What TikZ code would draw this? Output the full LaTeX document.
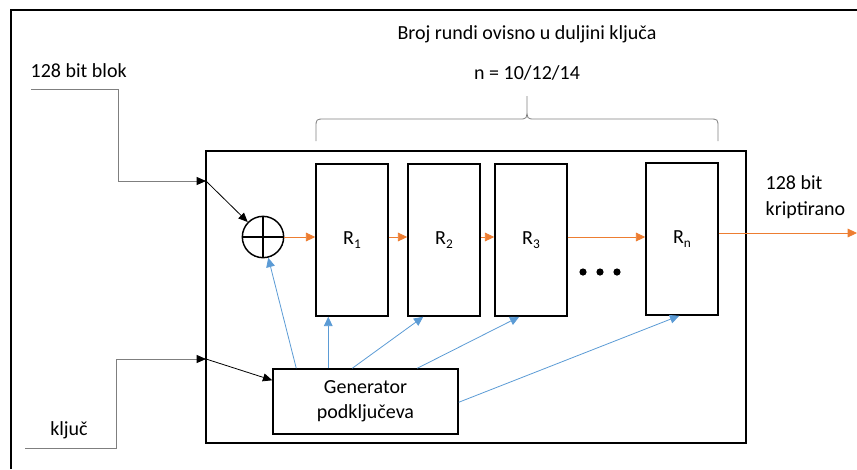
\documentclass[tikz,border=0pt]{standalone}
\usepackage{fontspec}
\setmainfont{Carlito}
\usetikzlibrary{arrows.meta,calc}
\definecolor{ornge}{HTML}{ED7D31}
\definecolor{blu}{HTML}{5B9BD5}
\definecolor{grey}{HTML}{7F7F7F}
\newcommand{\rsub}[1]{R\raisebox{-0.35ex}{\fontsize{10}{10}\selectfont #1}}
\tikzset{
  thick box/.style={draw,line width=1.1pt,inner sep=0pt},
  rnd/.style={thick box,minimum width=54pt,minimum height=114pt},
  blk/.style={line width=0.6pt,-{Triangle[length=7pt,width=6pt,color=black]}},
  org/.style={ornge,line width=0.6pt,-{Triangle[length=7pt,width=6.5pt]}},
  key/.style={blu,line width=0.6pt,-{Triangle[length=7pt,width=6.5pt]}}
}
\begin{document}
\begin{tikzpicture}[x=0.75pt,y=-0.75pt,font=\fontsize{15}{19}\selectfont]
    \useasboundingbox (0,0) rectangle (857,469);
    \draw[line width=1.5pt] (11,469) -- (11,10) -- (857,10);
    \node[thick box,minimum width=405pt,minimum height=219pt] (main) at (476,297) {};
    \node[thick box,circle,minimum size=31pt] (xor) at (263,237) {};
    \draw[line width=1.1pt] (xor.north) -- (xor.south) (xor.west) -- (xor.east);
    \node[rnd] (r1) at (352,240) {\rsub{1}};
    \node[rnd] (r2) at (444,240) {\rsub{2}};
    \node[rnd] (r3) at (531,240) {\rsub{3}};
    \node[rnd] (rn) at (682,239) {\rsub{n}};
    \node[thick box,minimum width=138.75pt,minimum height=48.75pt,align=center] (gen) at (365.5,401.5) {Generator\\podključeva};
    \foreach \d in {583,600,617} \fill (\d,272) circle (2.7pt);
    \node[anchor=west] (blok) at (26,71) {128 bit blok};
    \node (kljuc) at (69,430) {ključ};
    \node (title) at (527,34) {Broj rundi ovisno u duljini ključa};
    \node (nval) at (527,73) {n = 10/12/14};
    \node[anchor=west,align=left] (izlaz) at (761,197) {128 bit\\kriptirano};
    \coordinate (blokin) at (31,89);
    \coordinate (kljucin) at (25,448);
    \coordinate (e1) at (206,181);
    \coordinate (e2) at (206,359);
    \coordinate (out) at (857,233);
    \coordinate (bl) at (316,141);
    \coordinate (br) at (718,141);
    \coordinate (btip) at (527,96);
    \draw[grey,line width=0.6pt] (bl) -- ++(0,-13) .. controls ++(0,-9) .. ++(9,-9) -- ($(btip)+(-8,23)$) .. controls ($(btip)+(0,23)$) .. ($(btip)+(0,12)$) -- (btip)
      ($(btip)+(0,12)$) .. controls ($(btip)+(0,23)$) .. ($(btip)+(8,23)$) -- ($(br)+(-9,-22)$) .. controls ($(br)+(0,-22)$) .. ($(br)+(0,-13)$) -- (br);
    \draw[blk,grey] (blokin) -- ++(87,0) |- (e1);
    \draw[blk,grey] (kljucin) -- ++(91,0) |- (e2);
    \draw[blk] (e1) -- (xor);
    \draw[blk] (e2) -- ($(gen.north west)+(0,12)$);
    \draw[org] (xor.east) -- (xor.east -| r1.west);
    \draw[org] (r1.east |- xor.east) -- (r2.west |- xor.east);
    \draw[org] (r2.east |- xor.east) -- (r3.west |- xor.east);
    \draw[org] (r3.east |- xor.east) -- (rn.west |- xor.east);
    \draw[org] (rn.east |- out) -- (out);
    \draw[key] ($(gen.north west)+(24,0)$) -- (xor);
    \draw[key] ($(gen.north west)+(56,0)$) -- ($(r1.south west)+(13,0)$);
    \draw[key] ($(gen.north west)+(80,0)$) -- ($(r2.south west)+(16,0)$);
    \draw[key] ($(gen.north west)+(145,0)$) -- ($(r3.south west)+(25,0)$);
    \draw[key] ($(gen.north east)+(0,34)$) -- ($(rn.south west)+(34,0)$);
\end{tikzpicture}
\end{document}
